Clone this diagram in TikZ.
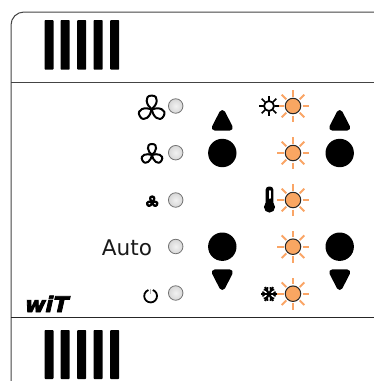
\documentclass[tikz,border=0pt]{standalone}
\usepackage{fontspec}
\setmainfont{DejaVu Sans}
\newfontfamily\logofont[FakeBold=3.5,FakeSlant=0.22]{DejaVu Sans Bold}
\definecolor{ledgrey}{HTML}{E2E2E2}
\definecolor{ledorange}{HTML}{F9A662}
\definecolor{rayorange}{HTML}{FAA566}
\definecolor{framegrey}{HTML}{444444}
\tikzset{
  frameline/.style={draw=framegrey,line width=1pt},
  barblock/.style={fill=black,rounded corners=0.8pt},
  greyled/.style={circle,draw=black!55,line width=0.8pt,inner color=ledgrey!45,outer color=ledgrey!95!black,minimum size=14.5pt,inner sep=0pt},
  orangeled/.style={circle,draw=black!85,line width=1pt,fill=ledorange,minimum size=15.5pt,inner sep=0pt},
  ray/.style={draw=rayorange,line width=1.9pt},
  knob/.style={circle,fill=black,minimum size=28.4pt,inner sep=0pt},
  arrowblock/.style={fill=black,draw=black,line width=6pt,line join=round},
  fanline/.style={draw=black,line cap=round,line join=round},
}
\newcommand{\fanicon}[4]{% x y radius width
  \foreach \a in {0,120,240}{
    \draw[fanline,line width=#4pt,shift={(#1,#2)},rotate=\a,scale=#3]
      (0,0) .. controls (-0.4,-0.3) and (-0.62,-1.04) .. (0,-1.04)
      .. controls (0.62,-1.04) and (0.4,-0.3) .. (0,0);
  }
}
\begin{document}
\begin{tikzpicture}[x=1pt,y=-1pt]
\useasboundingbox (0,0) rectangle (374,381);
\clip (0,0) rectangle (374,381);
% housing
\draw[frameline,rounded corners=13pt] (11,386) -- (11,12) -- (385,12);
\draw[frameline] (11,82) -- (374,82);
\draw[draw=black!85,line width=1pt] (11,317) -- (374,317);
% bars
\foreach \x in {44.5,60.6,77.2,93.6,110.2}{
  \fill[barblock] (\x,20) rectangle ++(9,49.7);
  \fill[barblock] (\x,330) rectangle ++(9,49);
}
% grey leds
\node[greyled] (g1) at (175.7,106) {};
\node[greyled] (g2) at (175.7,152.7) {};
\node[greyled] (g3) at (175.7,200) {};
\node[greyled] (g4) at (175.7,246.5) {};
\node[greyled] (g5) at (175.7,293) {};
% orange leds
\foreach \n/\y in {o1/106,o2/153,o3/200,o4/246.7,o5/293.7}{
  \foreach \a in {0,45,...,315}{
    \draw[ray] (293,\y) ++(\a:9.5) -- ++(\a:6.5);
  }
  \node[orangeled] (\n) at (293,\y) {};
}
% knobs and arrows
\foreach \x/\s in {222.3/l,339.7/r}{
  \node[knob] (up\s) at (\x,153) {};
  \node[knob] (dn\s) at (\x,246.7) {};
  \draw[arrowblock] (\x,113) -- (\x+7.5,127.6) -- (\x-7.5,127.6) -- cycle;
  \draw[arrowblock] (\x,287) -- (\x+7.5,272.4) -- (\x-7.5,272.4) -- cycle;
}
% fans
\fanicon{151.7}{109.3}{13.2}{2}
\fanicon{152}{155}{10.6}{2}
\fanicon{152.2}{202}{5.3}{2.3}
% auto
\node[inner sep=0pt,anchor=base east,font=\fontsize{21.6}{24}\selectfont,text=black!90] (auto) at (152.3,255) {Auto};
% power
\draw[black,line width=1.8pt] (152.8,290) arc[start angle=-70,end angle=250,radius=6.4];
\draw[black!30,line width=0.6pt] (150.7,288.5) -- (150.7,294);
% sun
\draw[black,line width=1.8pt] (269,106) circle[radius=5];
\foreach \a in {0,45,...,315}{
  \draw[black,line width=1.7pt] (269,106) ++(\a:5.5) -- ++(\a:4.8);
}
% thermometer
\fill[black] (269.5,207) circle[radius=5.6];
\fill[black,rounded corners=3pt] (265.7,207) rectangle (273.3,186.6);
\draw[white,line width=2pt,line cap=round] (269.5,191) -- (269.5,198);
% snowflake
\foreach \a in {0,60,120}{
  \draw[black,line width=2.2pt] (269,294) ++(\a:8) -- ++(\a+180:16);
}
\foreach \a in {0,60,...,300}{
  \draw[black,line width=1.5pt] (269,294) ++(\a:3.8) ++(\a+40:3.6) -- ++(\a+220:3.6) -- ++(\a-40:3.6);
}
% logo
\node[inner sep=0pt,anchor=base west,font=\logofont\fontsize{21.5}{24}\selectfont,xscale=1.03] (logo) at (23.5,312) {wiT};
\end{tikzpicture}
\end{document}
